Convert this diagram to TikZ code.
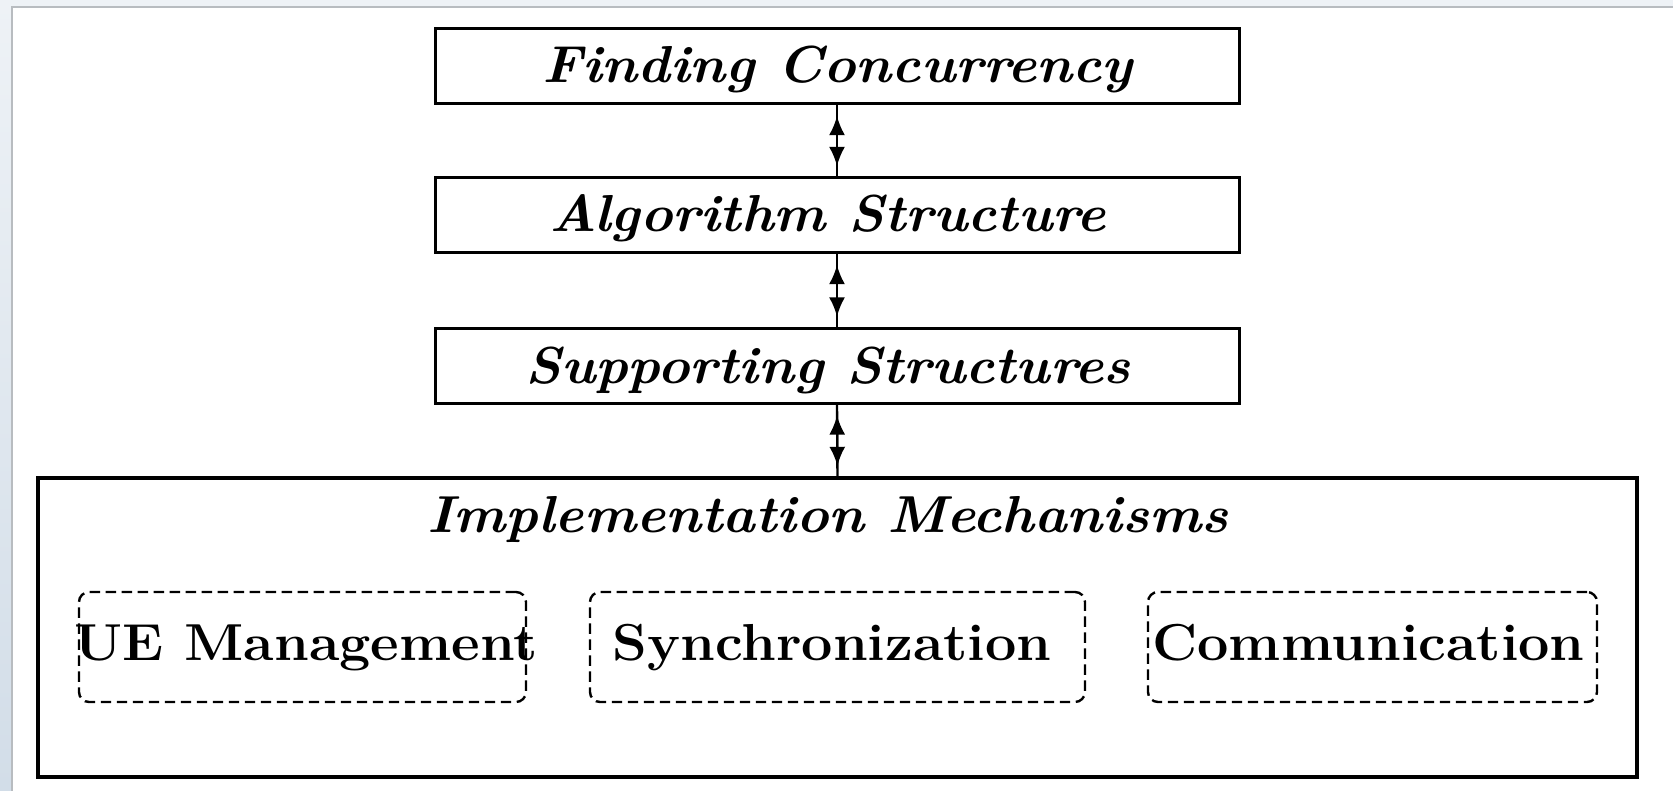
\documentclass[tikz,border=0pt]{standalone}
\usepackage{graphicx}
\usetikzlibrary{arrows.meta}
\definecolor{outerbg}{HTML}{EEF2F6}
\definecolor{outerbot}{HTML}{D2DDE8}
\definecolor{framegray}{HTML}{B8BCC0}
\tikzset{
  levelbox/.style={draw, line width=0.75pt, inner sep=0pt, minimum width=201pt, minimum height=18.75pt},
  mechbox/.style={draw, line width=0.6pt, dash pattern=on 2.6pt off 1.4pt, rounded corners=2.5pt, inner sep=0pt, minimum height=27.5pt},
  itlabel/.style={anchor=base, inner sep=0pt, font=\fontsize{13}{15}\selectfont\bfseries\itshape},
  bflabel/.style={anchor=base, inner sep=0pt, font=\fontsize{13}{15}\selectfont\bfseries},
  link/.style={line width=0.6pt},
  linktips/.style={line width=0.6pt, {Latex[length=4.8pt,width=4pt]}-{Latex[length=4.8pt,width=4pt]}, shorten <=2.6pt, shorten >=2.6pt}
}
\begin{document}
\begin{tikzpicture}[x=0.25pt,y=-0.25pt]
\useasboundingbox (0,0) rectangle (1673,791);
% page background and frame
\fill[outerbg] (0,0) rectangle (1673,791);
\shade[top color=outerbg, bottom color=outerbot] (0,0) rectangle (12,791);
\fill[white] (12,7) rectangle (1673,791);
\draw[framegray, line width=0.6pt] (12,791) -- (12,7) -- (1673,7);
% level boxes
\node[levelbox] (fc) at (837,66.5) {};
\node[levelbox] (as) at (837,215.5) {};
\node[levelbox] (ss) at (837,366) {};
\node[draw, line width=0.8pt, inner sep=0pt, minimum width=399.75pt, minimum height=74.75pt] (im) at (837.5,627.5) {};
\node[itlabel] (fct) at (837.5,83) {\scalebox{1.06}[1]{Finding Concurrency}};
\node[itlabel] (ast) at (827.5,232) {\scalebox{1.06}[1]{Algorithm Structure}};
\node[itlabel] (sst) at (828,383) {\scalebox{1.06}[1]{Supporting Structures}};
\node[itlabel] (imt) at (828,533) {\scalebox{1.06}[1]{Implementation Mechanisms}};
% mechanism boxes
\node[mechbox, minimum width=111.75pt] (ue) at (302.5,647) {};
\node[mechbox, minimum width=123.75pt] (sy) at (837.5,647) {};
\node[mechbox, minimum width=112.25pt] (co) at (1372.5,647) {};
\node[bflabel] (uet) at (306,660) {\scalebox{1.07}[1]{UE Management}};
\node[bflabel] (syt) at (832,660) {\scalebox{1.07}[1]{Synchronization}};
\node[bflabel] (cot) at (1368.5,660) {\scalebox{1.07}[1]{Communication}};
% connectors
\draw[link] (fc.south) -- (as.north);
\draw[linktips] (fc.south) -- (as.north);
\draw[link] (as.south) -- (ss.north);
\draw[linktips] (as.south) -- (ss.north);
\draw[link] (ss.south) -- (im.north);
\draw[linktips] (ss.south) -- (im.north);
\end{tikzpicture}
\end{document}
